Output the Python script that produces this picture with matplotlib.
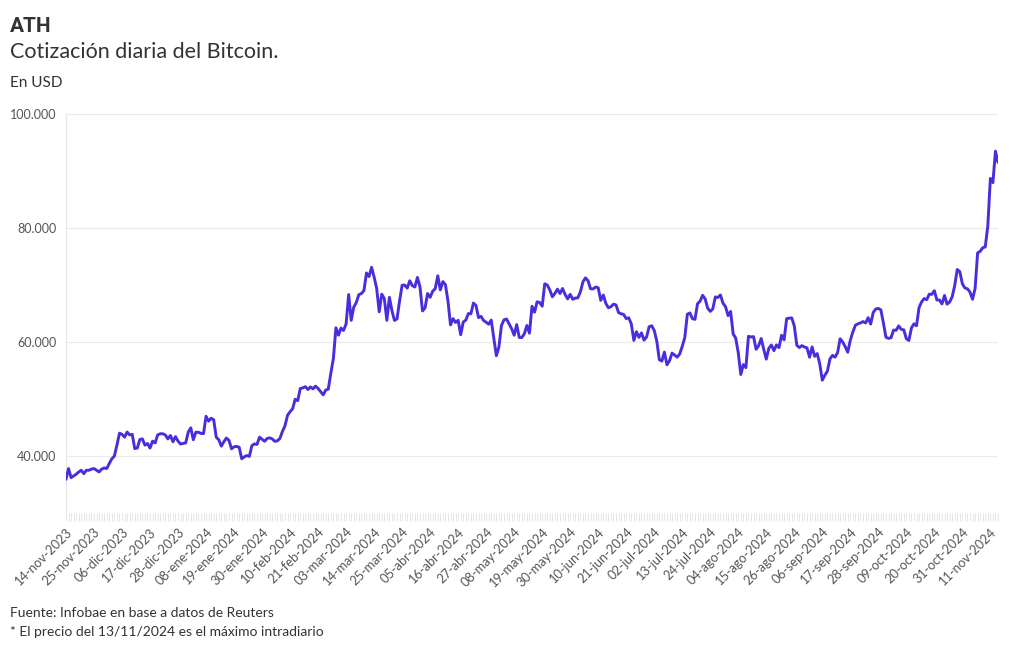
import matplotlib
matplotlib.use("Agg")
import matplotlib.pyplot as plt
import matplotlib.dates as mdates
import numpy as np
import pandas as pd

# ---------------- data (daily close, USD) ----------------
start_date = "2023-11-14"
end_date = "2024-11-14"

nov23 = [35900, 37800, 36200, 36500, 36800, 37200, 37500, 36900, 37500, 37500,
         37700, 37800, 37500, 37200, 37700, 37900, 37800]
dic23 = [38700, 39500, 40000, 41900, 44000, 43800, 43300, 44200, 43700, 43800,
         41300, 41400, 42900, 43000, 41900, 42200, 41400, 42600, 42300, 43700,
         43900, 43900, 43700, 43000, 43600, 42500, 43400, 42600, 42100, 42200,
         42300]
ene24 = [44180, 44940, 42850, 44180, 44160, 43970, 43930, 46970, 46110, 46630,
         46340, 43300, 42850, 41730, 42510, 43150, 42740, 41260, 41620, 41670,
         41550, 39510, 39850, 40080, 39930, 41820, 42120, 42030, 43300, 42940,
         42580]
feb24 = [43080, 43190, 42990, 42580, 42660, 43080, 44320, 45300, 47150, 47770,
         48290, 49960, 49700, 51840, 51940, 52160, 51660, 52120, 51780, 52260,
         51840, 51300, 50730, 51570, 51730, 54520, 57090, 62500, 61200]
mar24 = [62440, 62030, 63170, 68330, 63800, 66110, 66930, 68300, 68500, 69020,
         72120, 71480, 73100, 71400, 69400, 65300, 68390, 67610, 63800, 67840,
         65500, 63780, 64060, 67230, 69960, 69990, 69450, 70740, 69890, 69650,
         71330]
abr24 = [69700, 65450, 65980, 68510, 67840, 68900, 69360, 71620, 69140, 70590,
         70060, 67190, 63000, 64100, 63430, 63810, 61280, 63510, 63840, 64990,
         64940, 66840, 66410, 64280, 64500, 63770, 63460, 63120, 63840, 60640]
may24 = [57600, 59120, 62890, 63890, 64030, 63160, 62330, 61190, 63050, 60790,
         60790, 61450, 62900, 61550, 66270, 65230, 67050, 66940, 66280, 70200,
         70000, 69120, 67930, 68530, 69270, 68500, 69390, 68350, 67570, 68350,
         67490]
jun24 = [67710, 67750, 68800, 70540, 71250, 70760, 69340, 69310, 69650, 69510,
         67310, 68240, 66760, 66010, 66190, 66640, 66490, 65140, 64960, 64830,
         64100, 64250, 63180, 60280, 61800, 60810, 61600, 60320, 60890, 62680]
jul24 = [62850, 62030, 60170, 56900, 56660, 58230, 56000, 56710, 58050, 57720,
         57340, 57900, 59230, 60790, 64870, 65100, 64100, 63970, 66710, 67160,
         68190, 67550, 65930, 65370, 65800, 67910, 67810, 68250, 66820, 66200,
         64620]
ago24 = [65360, 61410, 60680, 58120, 54300, 56040, 55500, 61000, 60880, 60940,
         58720, 59350, 60610, 58740, 57000, 58880, 59480, 58480, 59490, 59010,
         61180, 60380, 64090, 64180, 64220, 62830, 59420, 59030, 59360, 59120,
         58970]
sep24 = [57330, 59130, 57480, 57970, 56160, 53300, 54160, 54880, 57020, 57650,
         57340, 58130, 60570, 60010, 59180, 58210, 60310, 61760, 62950, 63190,
         63350, 63580, 63340, 64260, 63140, 65180, 65790, 65890, 65630, 63330]
oct24 = [60840, 60630, 60750, 62090, 62060, 62820, 62220, 62130, 60580, 60270,
         62450, 63190, 62850, 66050, 67040, 67620, 67420, 68380, 68360, 69000,
         67370, 67370, 66680, 68160, 66640, 67010, 67930, 69910, 72720, 72340,
         70220]
nov24 = [69480, 69340, 68750, 67500, 69360, 75640, 75900, 76540, 76680, 80370,
         88700, 87960, 93480, 91500]

y_ticks = [40000, 60000, 80000, 100000]
y_tick_labels = ["40.000", "60.000", "80.000", "100.000"]
meses = ["ene", "feb", "mar", "abr", "may", "jun", "jul", "ago", "sep", "oct", "nov", "dic"]

title = "ATH"
subtitle = "Cotización diaria del Bitcoin."
unit = "En USD"
source = "Fuente: Infobae en base a datos de Reuters"
note = "* El precio del 13/11/2024 es el máximo intradiario"

# ---------------- build series ----------------
values = np.array(nov23 + dic23 + ene24 + feb24 + mar24 + abr24 + may24 +
                  jun24 + jul24 + ago24 + sep24 + oct24 + nov24, dtype=float)
dates = pd.date_range(start_date, end_date, freq="D")
assert len(dates) == len(values)

# ---------------- figure ----------------
plt.rcParams["font.family"] = ["Lato", "DejaVu Sans"]
W, H = 1020, 650
fig = plt.figure(figsize=(W / 100, H / 100), dpi=100)
fig.patch.set_facecolor("white")

ax_left, ax_right, ax_top, ax_bottom = 66, 998, 114, 513
ax = fig.add_axes([ax_left / W, 1 - ax_bottom / H,
                   (ax_right - ax_left) / W, (ax_bottom - ax_top) / H])

ax.plot(dates, values, color="#4a2ddc", linewidth=2.1, solid_joinstyle="round",
        solid_capstyle="round", zorder=3)

ax.set_xlim(dates[0], dates[-1])
ax.set_ylim(30000, 100000)

ax.set_yticks(y_ticks)
ax.set_yticklabels(y_tick_labels)
ax.grid(axis="y", color="#ebebeb", linewidth=0.9, zorder=0)
ax.tick_params(axis="y", length=0, pad=7, labelsize=9, labelcolor="#555555")

major = dates[::11]
ax.set_xticks(major)
ax.set_xticklabels([f"{d.day:02d}-{meses[d.month - 1]}-{d.year}" for d in major],
                   rotation=45, ha="right", va="top", rotation_mode="anchor")
ax.set_xticks(dates, minor=True)
ax.tick_params(axis="x", which="both", length=6, width=0.7, color="#e6e6e6",
               labelsize=9.3, labelcolor="#555555", pad=3)

for s in ["top", "right", "bottom"]:
    ax.spines[s].set_visible(False)
ax.spines["left"].set_color("#e6e6e6")
ax.spines["left"].set_linewidth(0.8)

# ---------------- texts ----------------
def fy(px):
    return 1 - px / H

fig.text(10 / W, fy(32), title, fontsize=15, fontweight="bold",
         family=["Roboto", "DejaVu Sans"], color="#333333",
         va="baseline", ha="left")
fig.text(10 / W, fy(58), subtitle, fontsize=15.5, color="#333333",
         va="baseline", ha="left")
fig.text(10 / W, fy(87), unit, fontsize=11, color="#333333",
         va="baseline", ha="left")
fig.text(10 / W, fy(617), source, fontsize=10, color="#333333",
         va="baseline", ha="left")
fig.text(10 / W, fy(636), note, fontsize=10, color="#333333",
         va="baseline", ha="left")

fig.savefig("out.png", dpi=100, facecolor="white")
